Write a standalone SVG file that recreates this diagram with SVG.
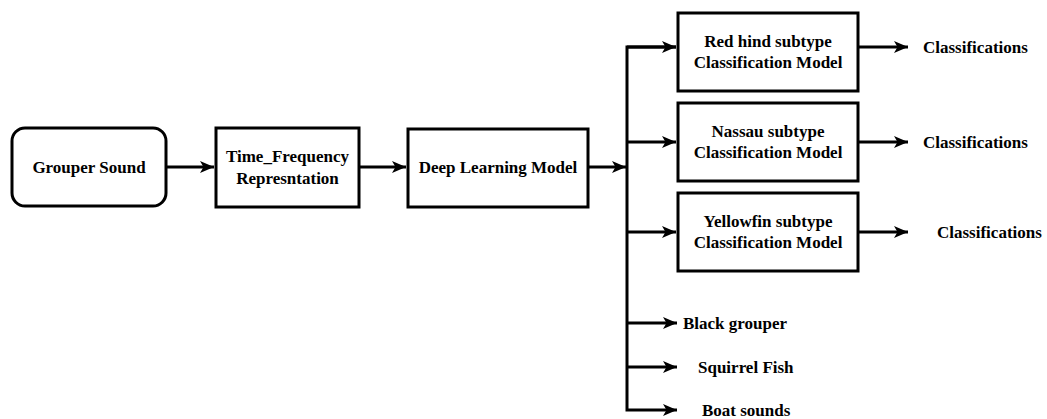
<svg xmlns="http://www.w3.org/2000/svg" width="1047" height="419" viewBox="0 0 1047 419">
  <style>
    .box { fill: #fff; stroke: #000; stroke-width: 3; }
    .lbl { font-weight: bold; font-size: 17px; fill: #000; }
    .mid { text-anchor: middle; }
    .wire { fill: none; stroke: #000; stroke-width: 3; }
  </style>
  <defs>
    <marker id="arrow" viewBox="0 0 14 12" refX="14" refY="6" markerWidth="14" markerHeight="12" markerUnits="userSpaceOnUse" orient="auto">
      <path d="M0,0 L14,6 L0,12 L3.5,6 Z" fill="#000"/>
    </marker>
  </defs>
  <rect width="1047" height="419" fill="#fff"/>

  <g id="connectors">
    <line class="wire" x1="166" y1="167" x2="214" y2="167" marker-end="url(#arrow)"/>
    <line class="wire" x1="360" y1="167" x2="406" y2="167" marker-end="url(#arrow)"/>
    <line class="wire" x1="589" y1="167" x2="626" y2="167" marker-end="url(#arrow)"/>
    <path class="wire" d="M676,47 H627 V410 H677" marker-end="url(#arrow)"/>
    <line class="wire" x1="627" y1="47" x2="676" y2="47" marker-end="url(#arrow)"/>
    <line class="wire" x1="627" y1="142" x2="676" y2="142" marker-end="url(#arrow)"/>
    <line class="wire" x1="627" y1="232" x2="676" y2="232" marker-end="url(#arrow)"/>
    <line class="wire" x1="627" y1="323" x2="677" y2="323" marker-end="url(#arrow)"/>
    <line class="wire" x1="627" y1="367" x2="677" y2="367" marker-end="url(#arrow)"/>
    <line class="wire" x1="859" y1="47" x2="908" y2="47" marker-end="url(#arrow)"/>
    <line class="wire" x1="859" y1="142" x2="908" y2="142" marker-end="url(#arrow)"/>
    <line class="wire" x1="859" y1="232" x2="908" y2="232" marker-end="url(#arrow)"/>
  </g>

  <g font-family="Liberation Serif, Times New Roman, serif">
  <g id="grouper-sound">
    <rect class="box" x="12" y="128" width="154" height="78" rx="13"/>
    <text class="lbl mid" x="89" y="173">Grouper Sound</text>
  </g>

  <g id="time-frequency">
    <rect class="box" x="216" y="128" width="143" height="79"/>
    <text class="lbl mid" x="287.5" y="162">Time_Frequency</text>
    <text class="lbl mid" x="287.5" y="184">Represntation</text>
  </g>

  <g id="deep-learning">
    <rect class="box" x="408" y="129" width="180" height="78"/>
    <text class="lbl mid" x="498" y="173">Deep Learning Model</text>
  </g>

  <g id="red-hind">
    <rect class="box" x="678" y="13" width="180" height="78"/>
    <text class="lbl mid" x="768" y="47">Red hind subtype</text>
    <text class="lbl mid" x="768" y="68">Classification Model</text>
  </g>

  <g id="nassau">
    <rect class="box" x="678" y="103" width="180" height="78"/>
    <text class="lbl mid" x="768" y="137">Nassau subtype</text>
    <text class="lbl mid" x="768" y="158">Classification Model</text>
  </g>

  <g id="yellowfin">
    <rect class="box" x="678" y="193" width="180" height="78"/>
    <text class="lbl mid" x="768" y="227">Yellowfin subtype</text>
    <text class="lbl mid" x="768" y="248">Classification Model</text>
  </g>

  <g id="classifications-1">
    <text class="lbl" x="923" y="53">Classifications</text>
  </g>
  <g id="classifications-2">
    <text class="lbl" x="923" y="148">Classifications</text>
  </g>
  <g id="classifications-3">
    <text class="lbl" x="937" y="238">Classifications</text>
  </g>

  <g id="black-grouper">
    <text class="lbl" x="683" y="329">Black grouper</text>
  </g>
  <g id="squirrel-fish">
    <text class="lbl" x="698" y="373">Squirrel Fish</text>
  </g>
  <g id="boat-sounds">
    <text class="lbl" x="702" y="416">Boat sounds</text>
  </g>
  </g>
</svg>
